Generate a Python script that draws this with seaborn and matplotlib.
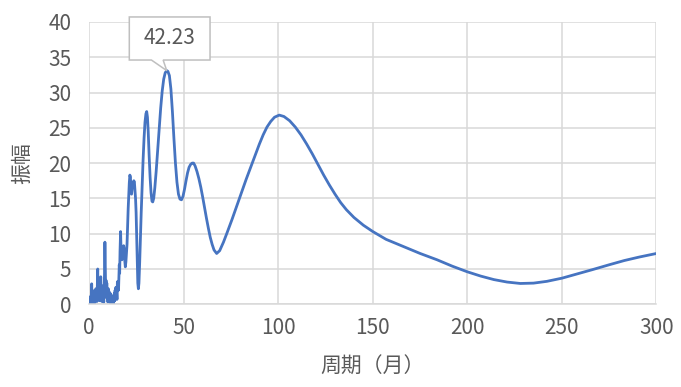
import matplotlib
matplotlib.use("Agg")
import matplotlib.pyplot as plt
import seaborn as sns
import pandas as pd
from matplotlib.patches import Polygon

# ---- data ----
period = [0.3, 0.5, 0.7, 0.9, 1.1, 1.3, 1.5, 1.7, 1.9, 2.1, 2.3, 2.5, 2.7, 2.9, 3.1, 3.3, 3.5, 3.7, 3.9,
          4.1, 4.3, 4.5, 4.7, 4.9, 5.1, 5.3, 5.5, 5.7, 5.9, 6.1, 6.3, 6.5, 6.7, 6.9, 7.1, 7.3, 7.5, 7.7, 7.9,
          8.1, 8.3, 8.5, 8.7, 8.9, 9.1, 9.3, 9.5, 9.7, 9.9, 10.1, 10.3, 10.5, 10.7, 10.9, 11.1, 11.3, 11.5,
          11.7, 11.9, 12.1, 12.3, 12.5, 12.7, 12.9, 13.1, 13.3, 13.5, 13.7, 13.9, 14.1, 14.3, 14.5, 14.7,
          14.9, 15.1, 15.3, 15.5, 15.7, 15.9, 16.1, 16.3, 16.6, 16.8, 17.0, 17.3, 17.6, 17.9, 18.2, 18.5,
          18.8, 19.1, 19.4, 19.7, 20.0, 20.3, 20.6, 20.9, 21.2, 21.5, 21.8, 22.1, 22.4, 22.7, 23.0, 23.3,
          23.6, 23.9, 24.2, 24.5, 24.8, 25.1, 25.4, 25.7, 26.0, 26.3, 26.7, 27.1, 27.5, 28.0, 28.5, 29.0,
          29.5, 30.0, 30.4, 30.8, 31.2, 31.7, 32.2, 32.7, 33.2, 33.6, 34.1, 34.7, 35.4, 36.2, 37.0, 37.8,
          38.6, 39.4, 40.2, 41.0, 41.6, 42.4, 43.2, 44.0, 44.8, 45.6, 46.4, 47.2, 48.0, 48.8, 49.6, 50.4,
          51.2, 52.0, 52.8, 53.6, 54.4, 55.2, 56.0, 57.0, 58.0, 59.0, 60.0, 61.0, 62.0, 63.0, 64.0, 65.0,
          66.0, 67.4, 69.0, 71.0, 73.0, 75.5, 78.0, 80.5, 83.0, 85.5, 88.0, 90.0, 92.0, 94.0, 96.0, 98.0,
          100.5, 103.0, 106.0, 109.0, 112.0, 115.0, 118.0, 121.0, 124.0, 127.0, 130.0, 133.0, 136.0,
          140.0, 145.0, 150.0, 157.0, 166.0, 175.0, 184.0, 192.0, 200.0, 207.0, 214.0, 221.0, 228.0,
          235.0, 242.0, 250.0, 258.0, 266.0, 275.0, 283.0, 291.0, 300.0]
amplitude = [0.1, 0.6, 0.2, 1.2, 0.3, 2.9, 0.8, 0.2, 1.5, 0.4, 1.9, 0.3, 1.0, 0.2, 1.4, 0.5, 2.2, 0.6, 1.8,
             0.4, 3.0, 5.0, 1.2, 2.4, 0.6, 3.1, 1.5, 0.5, 2.0, 3.9, 1.1, 2.6, 0.4, 1.7, 2.6, 0.6, 1.4, 0.3, 2.1,
             4.5, 8.8, 5.2, 2.0, 3.4, 1.0, 3.0, 0.8, 1.6, 0.3, 2.2, 0.7, 1.8, 0.5, 1.2, 0.2, 1.5, 0.4,
             0.9, 0.2, 1.1, 0.3, 0.8, 0.1, 1.3, 0.4, 1.6, 0.5, 2.0, 0.9, 2.4, 1.1, 1.8, 0.7,
             3.2, 1.9, 2.8, 2.0, 4.0, 5.6, 4.4, 7.5, 10.3, 8.0, 6.8, 6.3, 7.6, 7.0, 8.3, 7.8,
             6.2, 5.3, 6.0, 7.2, 8.5, 11.0, 13.5, 15.5, 17.2, 18.3, 18.0, 16.2, 15.6, 16.5, 17.3, 16.8,
             17.5, 17.3, 16.2, 15.0, 13.0, 9.5, 6.0, 3.0, 2.2, 3.0, 6.0, 9.5, 13.0, 16.8, 20.5, 23.5,
             25.8, 27.0, 27.3, 26.5, 24.5, 21.0, 18.0, 15.8, 14.6, 14.5, 15.0, 16.5, 18.8, 21.8, 24.8, 27.8,
             30.2, 31.9, 32.8, 33.1, 33.0, 32.4, 30.5, 27.3, 23.5, 20.0, 17.3, 15.6, 14.9, 14.8, 15.3, 16.3,
             17.5, 18.6, 19.4, 19.8, 20.0, 20.0, 19.6, 18.8, 17.8, 16.6, 15.2, 13.7, 12.2, 10.8, 9.5, 8.5,
             7.7, 7.2, 7.6, 8.8, 10.2, 12.0, 13.9, 15.8, 17.7, 19.5, 21.3, 22.7, 24.0, 25.1, 25.9, 26.5,
             26.8, 26.6, 26.0, 25.1, 24.0, 22.7, 21.3, 19.8, 18.3, 16.9, 15.6, 14.4, 13.4,
             12.3, 11.2, 10.3, 9.2, 8.2, 7.2, 6.3, 5.4, 4.6, 4.0, 3.5, 3.15, 2.95,
             3.0, 3.25, 3.7, 4.3, 4.9, 5.6, 6.2, 6.7, 7.2]
peak_label = "42.23"
x_ticks = [0, 50, 100, 150, 200, 250, 300]
y_ticks = [0, 5, 10, 15, 20, 25, 30, 35, 40]
x_title = "周期（月）"
y_title = "振幅"

df = pd.DataFrame({"period": period, "amplitude": amplitude})

sns.set_theme(style="white")
plt.rcParams["font.family"] = ["Noto Sans CJK SC", "DejaVu Sans"]

fig = plt.figure(figsize=(6.81, 3.87), dpi=100)
ax = fig.add_axes([0.131, 0.2137, 0.833, 0.7297])

line_color = "#4674C1"
grid_color = "#D9D9D9"
text_color = "#595959"

sns.lineplot(data=df, x="period", y="amplitude", ax=ax, color=line_color,
             linewidth=2.0, estimator=None, sort=True)

ax.set_xlim(0, 300)
ax.set_ylim(0, 40)
ax.set_xticks(x_ticks)
ax.set_yticks(y_ticks)
ax.set_xticklabels([str(v) for v in x_ticks])
ax.set_yticklabels([str(v) for v in y_ticks])
ax.grid(True, color=grid_color, linewidth=1.1)
ax.set_axisbelow(True)
for s in ["top", "right", "left"]:
    ax.spines[s].set_visible(False)
ax.spines["bottom"].set_color(grid_color)
ax.spines["bottom"].set_linewidth(1.1)
ax.tick_params(axis="both", length=0, labelsize=15, colors=text_color)
ax.tick_params(axis="y", pad=13)
ax.tick_params(axis="x", pad=9)
ax.set_xlabel(x_title, fontsize=15, color=text_color, labelpad=12)
ax.set_ylabel(y_title, fontsize=15, color=text_color, labelpad=11)

# callout for the peak
i_pk = int(df["amplitude"].idxmax())
px, py = df.loc[i_pk, "period"], df.loc[i_pk, "amplitude"]
bx0, bx1, by0, by1 = 21.2, 63.9, 34.6, 40.7
callout = Polygon([(bx0, by0), (32.9, by0), (px, py), (39.1, by0), (bx1, by0),
                   (bx1, by1), (bx0, by1)], closed=True, facecolor="white",
                  edgecolor="#BFBFBF", linewidth=1.1, clip_on=False, zorder=5)
ax.add_patch(callout)
ax.text((bx0 + bx1) / 2, (by0 + by1) / 2, peak_label, ha="center", va="center",
        fontsize=15, color=text_color, zorder=6, clip_on=False)

fig.savefig("out.png", dpi=100, facecolor="white")
